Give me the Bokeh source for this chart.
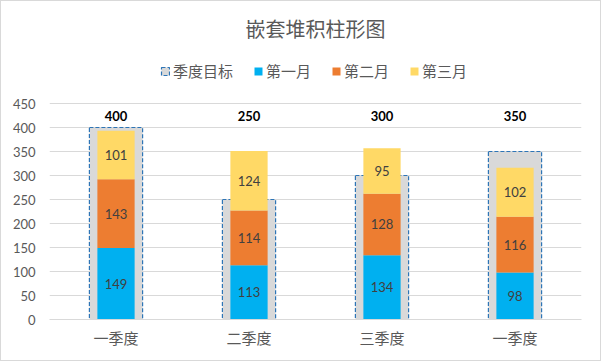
from bokeh.plotting import figure
from bokeh.models import Legend, LegendItem, ColumnDataSource, Range1d, FixedTicker, Label
from bokeh.core.properties import value
from bokeh.embed import file_html
from bokeh.resources import INLINE

categories = ["一季度", "二季度", "三季度", "一季度"]
target = [400, 250, 300, 350]
month1 = [149, 113, 134, 98]
month2 = [143, 114, 128, 116]
month3 = [101, 124, 95, 102]
series_names = ["第一月", "第二月", "第三月"]
target_name = "季度目标"
colors = ["#00B0F0", "#ED7D31", "#FFD966"]
title_text = "嵌套堆积柱形图"

CJK = "Noto Sans CJK SC"
NUM = "Lato"

W, H = 601, 361
LEFT, RIGHT, BOTTOM = 48, 21, 43
PX_PER_UNIT = 0.48
frame_h = H - BOTTOM
y_end = frame_h / PX_PER_UNIT

x = list(range(len(categories)))

p = figure(width=W, height=H, output_backend="svg", toolbar_location=None,
           x_range=Range1d(-0.5, len(categories) - 0.5), y_range=Range1d(0, y_end),
           min_border_left=LEFT, min_border_right=RIGHT, min_border_bottom=BOTTOM,
           min_border_top=0)
p.title = None
p.styles = {"border": "1px solid #D9D9D9", "box-sizing": "border-box"}

src = ColumnDataSource(dict(x=x, target=target, m1=month1, m2=month2, m3=month3))

outer = p.vbar(x="x", top="target", bottom=0, width=0.4, source=src,
               fill_color="#D9D9D9", line_color="#2E75B6", line_dash="4 2", line_width=1.2)

stack = p.vbar_stack(["m1", "m2", "m3"], x="x", width=0.28, source=src,
                     color=colors, line_color=None)

bottoms = [0] * len(x)
for vals in [month1, month2, month3]:
    mids = [b + v / 2 for b, v in zip(bottoms, vals)]
    s = ColumnDataSource(dict(x=x, y=mids, t=[str(v) for v in vals]))
    p.text(x="x", y="y", text="t", source=s, text_align="center", text_baseline="middle",
           text_font=value(NUM), text_font_size="13px", text_color="#404040")
    bottoms = [b + v for b, v in zip(bottoms, vals)]

ts = ColumnDataSource(dict(x=x, y=[425] * len(x), t=[str(v) for v in target]))
p.text(x="x", y="y", text="t", source=ts, text_align="center", text_baseline="middle",
       text_font=value(NUM), text_font_size="13px", text_font_style="bold", text_color="#000000")

# title
p.add_layout(Label(x=(len(categories) - 1) / 2, y=(frame_h - 27) / PX_PER_UNIT,
                   text=title_text, text_align="center", text_baseline="middle",
                   text_font=CJK, text_font_size="20px", text_color="#595959"))

legend = Legend(items=[LegendItem(label=target_name, renderers=[outer])] +
                [LegendItem(label=n, renderers=[r]) for n, r in zip(series_names, stack)],
                orientation="horizontal", location=(111, 238),
                label_text_font=CJK, label_text_font_size="15px", label_text_color="#595959",
                glyph_width=10, glyph_height=10, spacing=20, label_standoff=3,
                border_line_color=None, background_fill_alpha=0, padding=0, margin=0)
p.add_layout(legend)

p.yaxis.ticker = FixedTicker(ticks=list(range(0, 451, 50)))
p.xaxis.ticker = FixedTicker(ticks=x)
p.xaxis.major_label_overrides = {i: c for i, c in enumerate(categories)}
for ax in (p.xaxis[0], p.yaxis[0]):
    ax.major_tick_line_color = None
    ax.minor_tick_line_color = None
    ax.major_tick_out = 0
    ax.major_tick_in = 0
    ax.minor_tick_out = 0
    ax.major_label_text_color = "#595959"
p.yaxis.axis_line_color = None
p.yaxis.major_label_text_font = NUM
p.yaxis.major_label_text_font_size = "13px"
p.yaxis.major_label_standoff = 14
p.xaxis.major_label_text_font = CJK
p.xaxis.major_label_text_font_size = "15px"
p.xaxis.major_label_standoff = 7
p.xaxis.axis_line_color = "#D9D9D9"
p.xgrid.grid_line_color = None
p.ygrid.grid_line_color = "#D9D9D9"
p.outline_line_color = None

open("out.html", "w").write(file_html(p, INLINE))
